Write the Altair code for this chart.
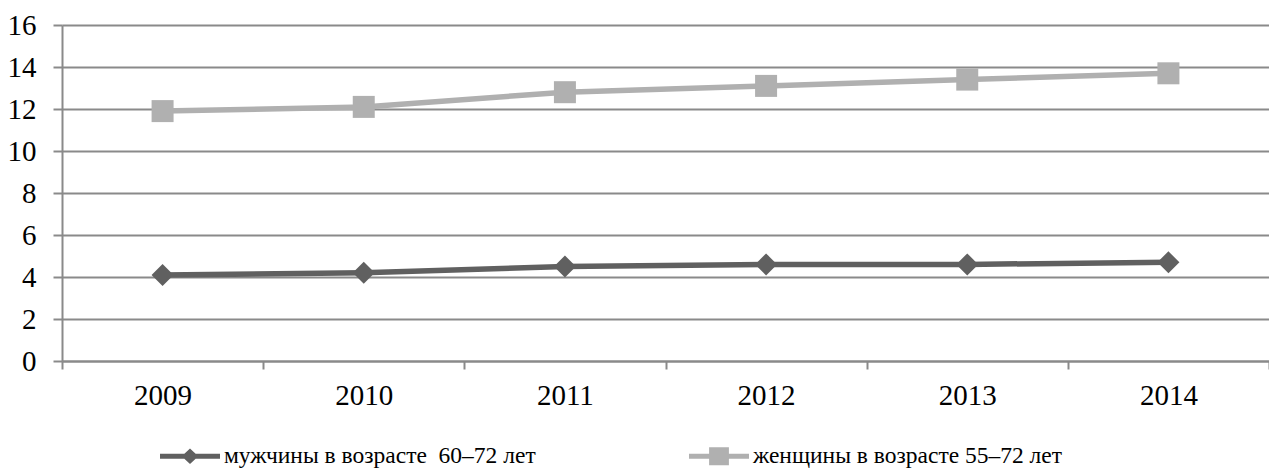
import altair as alt
import pandas as pd

years = ["2009", "2010", "2011", "2012", "2013", "2014"]
men = [4.1, 4.2, 4.5, 4.6, 4.6, 4.7]
women = [11.9, 12.1, 12.8, 13.1, 13.4, 13.7]
series = ["мужчины в возрасте\u00a0 60–72 лет", "женщины в возрасте 55–72 лет"]
colors = ["#606060", "#b0b0b0"]
y_ticks = [0, 2, 4, 6, 8, 10, 12, 14, 16]

df = pd.DataFrame({
    "year": years * 2,
    "value": men + women,
    "series": [series[0]] * len(years) + [series[1]] * len(years),
})

FONT = "Liberation Serif"
FS = 29
LFS = 23.5
GRID = "#8a8a8a"

t = 0.085
men_path = (f"M-1,-{t} L-0.188,-{t} L0,-0.26 L0.188,-{t} L1,-{t} L1,{t} "
            f"L0.188,{t} L0,0.26 L-0.188,{t} L-1,{t} Z")
women_path = (f"M-1,-{t} L-0.33,-{t} L-0.33,-0.3 L0.33,-0.3 L0.33,-{t} L1,-{t} "
              f"L1,{t} L0.33,{t} L0.33,0.3 L-0.33,0.3 L-0.33,{t} L-1,{t} Z")


def make_legend():
    return alt.Legend(
        title=None, orient="none", direction="horizontal",
        legendX=98, legendY=401, padding=0,
        symbolSize=3600, symbolOpacity=1, symbolStrokeWidth=0,
        labelOffset=4, columnPadding=153, labelLimit=0,
        labelFont=FONT, labelFontSize=LFS, labelColor="#000000",
    )


x_enc = alt.X("year:O", bandPosition=0.5,
              scale=alt.Scale(type="band", paddingInner=0, paddingOuter=0),
              axis=alt.Axis(title=None, tickBand="extent", labelAngle=0, grid=False,
                            tickSize=8, tickWidth=2, tickColor=GRID,
                            domainColor=GRID, domainWidth=2,
                            labelPadding=12, labelFont=FONT, labelFontSize=FS,
                            labelColor="#000000"))
y_enc = alt.Y("value:Q", scale=alt.Scale(domain=[0, 16], nice=False),
              axis=alt.Axis(title=None, values=y_ticks, grid=True, gridColor=GRID,
                            gridWidth=2, tickSize=9, tickWidth=2, tickColor=GRID,
                            domainColor=GRID, domainWidth=2, labelPadding=17,
                            labelFont=FONT, labelFontSize=FS, labelColor="#000000"))
color_enc = alt.Color("series:N", scale=alt.Scale(domain=series, range=colors),
                      legend=make_legend())

base = alt.Chart(df)
lines = base.mark_line(strokeWidth=5.5).encode(x=x_enc, y=y_enc, color=color_enc)
men_pts = base.mark_point(filled=True, size=484, opacity=1, shape="diamond").encode(
    x=x_enc, y=y_enc, color=color_enc
).transform_filter(alt.datum.series == series[0])
women_pts = base.mark_point(filled=True, size=484, opacity=1, shape="square").encode(
    x=x_enc, y=y_enc, color=color_enc
).transform_filter(alt.datum.series == series[1])
legend_layer = base.mark_point(filled=True, opacity=0).encode(
    x=x_enc, y=y_enc, color=color_enc,
    shape=alt.Shape("series:N", scale=alt.Scale(domain=series, range=[men_path, women_path]),
                    legend=make_legend()),
)

chart = alt.layer(lines, men_pts, women_pts, legend_layer).properties(
    width=1207, height=336,
    padding={"left": 54, "top": 17, "right": 0, "bottom": 110},
    autosize=alt.AutoSizeParams(type="none"),
).configure(background="#ffffff", font=FONT).configure_view(stroke=None)

chart.save("out.html", embed_options={"renderer": "svg", "actions": False})
